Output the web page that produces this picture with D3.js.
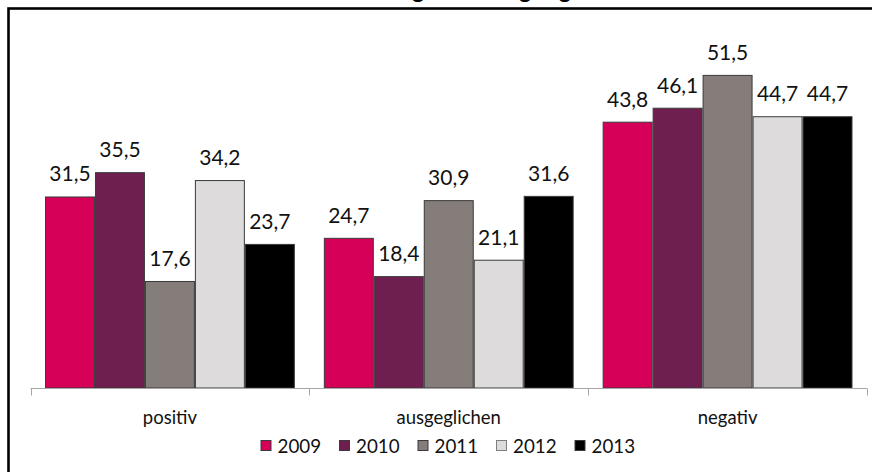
<!DOCTYPE html>
<html>
<head>
<meta charset="utf-8">
<script src="https://cdn.jsdelivr.net/npm/d3@7/dist/d3.min.js"></script>
<style>
  html, body { margin: 0; padding: 0; background: #fff; }
  svg { display: block; }
  text { font-family: Lato, "Open Sans", sans-serif; }
</style>
</head>
<body>
<svg id="chart" width="872" height="472"></svg>
<script>
const title = "Beurteilung der Ertragslage";
const categories = ["positiv", "ausgeglichen", "negativ"];
const years = ["2009", "2010", "2011", "2012", "2013"];
const values2009 = [31.5, 24.7, 43.8];
const values2010 = [35.5, 18.4, 46.1];
const values2011 = [17.6, 30.9, 51.5];
const values2012 = [34.2, 21.1, 44.7];
const values2013 = [23.7, 31.6, 44.7];
const seriesValues = [values2009, values2010, values2011, values2012, values2013];
const colors = ["#D60059", "#6E1F50", "#857D7A", "#DEDBDC", "#000000"];

const svg = d3.select("#chart");
const W = 872, H = 472;

// frame (chart area border, cropped on right and bottom)
svg.append("rect")
  .attr("x", 8.5).attr("y", 8.5)
  .attr("width", W + 20).attr("height", H + 20)
  .attr("fill", "#fff").attr("stroke", "#000").attr("stroke-width", 2.6);

// title (cut off at top, as in the reference)
svg.append("text")
  .attr("x", 444).attr("y", -2)
  .attr("text-anchor", "middle")
  .attr("font-size", 23).attr("font-weight", "bold")
  .attr("fill", "#000")
  .text(title);

const x = d3.scaleBand().domain(categories).range([30.5, 867]).padding(0);
const xi = d3.scaleBand().domain(years).range([14.5, x.bandwidth() - 14.5]).padding(0);
const y = d3.scaleLinear().domain([0, 60]).range([388, 23.2]);

const data = [];
categories.forEach((c, ci) => {
  years.forEach((yr, yi) => {
    data.push({ cat: c, year: yr, yi: yi, v: seriesValues[yi][ci] });
  });
});

const g = svg.append("g");
g.selectAll("rect.bar").data(data).enter().append("rect")
  .attr("class", "bar")
  .attr("x", d => x(d.cat) + xi(d.year) + 0.5)
  .attr("y", d => y(d.v) + 0.5)
  .attr("width", xi.bandwidth() - 1)
  .attr("height", d => y(0) - y(d.v) - 0.5)
  .attr("fill", d => colors[d.yi])
  .attr("stroke", "#3a3a3a").attr("stroke-width", 1);

g.selectAll("text.val").data(data).enter().append("text")
  .attr("class", "val")
  .attr("x", d => x(d.cat) + xi(d.year) + xi.bandwidth() / 2)
  .attr("y", d => y(d.v) - 15)
  .attr("text-anchor", "middle")
  .attr("font-size", 21)
  .attr("fill", "#111")
  .text(d => d3.format(".1f")(d.v).replace(".", ","));

// x axis
const axis = d3.axisBottom(x).tickSize(0).tickFormat("");
const ax = svg.append("g").attr("transform", "translate(0,388.5)").call(axis);
ax.select(".domain").attr("stroke", "#a6a6a6").attr("d", "M30.5,0H867");
const bounds = categories.map(c => x(c)).concat([x(categories[categories.length - 1]) + x.bandwidth()]);
ax.selectAll("line.bound").data(bounds).enter().append("line")
  .attr("class", "bound")
  .attr("x1", d => Math.round(d) + 0.5).attr("x2", d => Math.round(d) + 0.5)
  .attr("y1", 0).attr("y2", 7)
  .attr("stroke", "#a6a6a6");
ax.selectAll("text.cat").data(categories).enter().append("text")
  .attr("class", "cat")
  .attr("x", d => x(d) + x.bandwidth() / 2)
  .attr("y", 35)
  .attr("text-anchor", "middle")
  .attr("font-size", 18.5)
  .attr("fill", "#111")
  .text(d => d);

// legend
const legend = svg.append("g").attr("transform", "translate(260.5,440)");
const li = legend.selectAll("g").data(years).enter().append("g")
  .attr("transform", (d, i) => `translate(${i * 78.5},0)`);
li.append("rect")
  .attr("x", 0.5).attr("y", 0.5).attr("width", 10).attr("height", 10)
  .attr("fill", (d, i) => colors[i])
  .attr("stroke", (d, i) => i === 3 ? "#7f7f7f" : "#3a3a3a");
li.append("text")
  .attr("x", 17).attr("y", 12.7)
  .attr("font-size", 18.8)
  .attr("fill", "#111")
  .text(d => d);
</script>
</body>
</html>
